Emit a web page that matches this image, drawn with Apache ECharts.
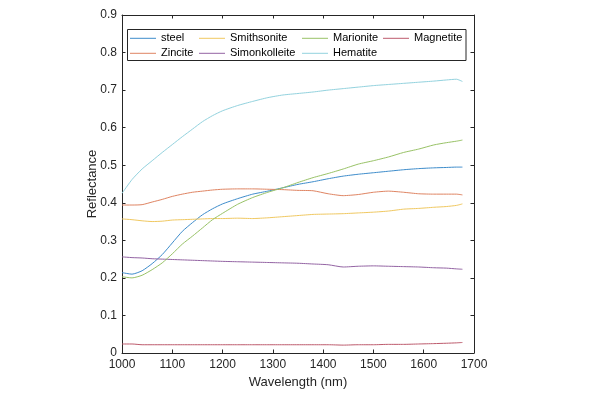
<!DOCTYPE html>
<html>
<head>
<meta charset="utf-8">
<script src="https://cdn.jsdelivr.net/npm/echarts@6/dist/echarts.min.js"></script>
<style>html,body{margin:0;padding:0;background:#fff}#chart{width:600px;height:400px}</style>
</head>
<body>
<div id="chart"></div>
<script>
const wavelength = [1000,1020,1040,1060,1080,1100,1120,1140,1160,1180,1200,1230,1260,1290,1320,1350,1380,1410,1440,1470,1500,1530,1560,1590,1620,1645,1665,1677];
const steel =        [.214,.210,.219,.238,.262,.293,.324,.347,.368,.384,.397,.411,.423,.431,.440,.449,.456,.464,.471,.476,.480,.484,.488,.491,.493,.494,.495,.495];
const zincite =      [.394,.394,.395,.402,.409,.417,.423,.428,.431,.434,.436,.437,.437,.436,.435,.433,.432,.424,.419,.422,.428,.431,.428,.424,.423,.423,.423,.421];
const smithsonite =  [.357,.355,.352,.350,.351,.354,.355,.356,.357,.358,.358,.359,.358,.360,.363,.366,.369,.370,.371,.373,.375,.378,.383,.385,.388,.390,.393,.397];
const simonkolleite =[.256,.254,.253,.251,.250,.249,.248,.247,.246,.245,.244,.243,.242,.241,.240,.239,.237,.235,.229,.231,.232,.231,.230,.229,.227,.226,.224,.223];
const marionite =    [.203,.200,.207,.222,.240,.264,.290,.311,.333,.355,.372,.396,.414,.428,.440,.454,.467,.478,.490,.503,.512,.522,.534,.543,.554,.560,.564,.567];
const hematite =     [.425,.462,.490,.512,.534,.555,.576,.596,.616,.632,.645,.659,.670,.680,.687,.691,.695,.700,.704,.708,.712,.715,.718,.721,.724,.727,.729,.723];
const magnetite =    [.024,.024,.022,.022,.022,.022,.022,.022,.022,.022,.022,.022,.022,.022,.022,.022,.022,.022,.021,.022,.022,.023,.023,.024,.025,.026,.027,.028];
const xTicks = [1000,1100,1200,1300,1400,1500,1600,1700];
const yTicks = [0,0.1,0.2,0.3,0.4,0.5,0.6,0.7,0.8,0.9];

const names = ['steel','Zincite','Smithsonite','Simonkolleite','Marionite','Hematite','Magnetite'];
const values = [steel,zincite,smithsonite,simonkolleite,marionite,hematite,magnetite];
const colors = ['#3d8ccb','#df8462','#f0c860','#9363a3','#98c266','#92d2de','#bd5a6c'];

const font = 'Liberation Sans, Arial, sans-serif';
const axisCol = '#262626';

const chart = echarts.init(document.getElementById('chart'), null, {renderer:'canvas'});

function legendCol(left, data){
  return {
    orient:'vertical', left:left, top:31.8, padding:0,
    icon:'rect', itemWidth:26, itemHeight:1, itemGap:2,
    data:data, selectedMode:false,
    textStyle:{fontFamily:font, fontSize:11, color:'#000', lineHeight:13}
  };
}

const xBase = {type:'value', min:xTicks[0], max:xTicks[xTicks.length-1], interval:100,
  axisLine:{onZero:false, lineStyle:{color:axisCol, width:1}},
  axisTick:{inside:true, length:3.5, lineStyle:{color:axisCol}},
  splitLine:{show:false}};
const yBase = {type:'value', min:yTicks[0], max:yTicks[yTicks.length-1], interval:0.1,
  axisLine:{onZero:false, lineStyle:{color:axisCol, width:1}},
  axisTick:{inside:true, length:3.5, lineStyle:{color:axisCol}},
  splitLine:{show:false}};

chart.setOption({
  animation:false,
  backgroundColor:'#fff',
  grid:{left:122, right:126, top:15, bottom:47, containLabel:false},
  xAxis:[
    Object.assign({}, xBase, {position:'bottom', name:'Wavelength (nm)', nameLocation:'middle', nameGap:23,
      nameMoveOverlap:false,
      nameTextStyle:{fontFamily:font, fontSize:13, color:axisCol},
      axisLabel:{margin:6, fontFamily:font, fontSize:12, color:axisCol, formatter:v=>String(v)}}),
    Object.assign({}, xBase, {position:'top', axisLabel:{show:false}})
  ],
  yAxis:[
    Object.assign({}, yBase, {position:'left', name:'Reflectance', nameLocation:'middle', nameGap:23,
      nameMoveOverlap:false,
      nameTextStyle:{fontFamily:font, fontSize:13, color:axisCol},
      axisLabel:{margin:5, fontFamily:font, fontSize:12, color:axisCol,
        formatter:v=> v===0 ? '0' : (Math.round(v*10)/10).toFixed(1)}}),
    Object.assign({}, yBase, {position:'right', axisLabel:{show:false}})
  ],
  legend:[
    legendCol(130, ['steel','Zincite']),
    legendCol(199, ['Smithsonite','Simonkolleite']),
    legendCol(302, ['Marionite','Hematite']),
    legendCol(383, ['Magnetite'])
  ],
  graphic:[{type:'rect', z:-1, shape:{x:127.5, y:29.5, width:338.5, height:31},
    style:{fill:'#fff', stroke:axisCol, lineWidth:1}}],
  series: names.map((n,i)=>({
    name:n, type:'line', xAxisIndex:0, yAxisIndex:0,
    data: wavelength.map((w,j)=>[w, values[i][j]]),
    symbol:'none', smooth:0.2,
    lineStyle:{color:colors[i], width:1},
    itemStyle:{color:colors[i]}
  })),
  color: colors
});
</script>
</body>
</html>
